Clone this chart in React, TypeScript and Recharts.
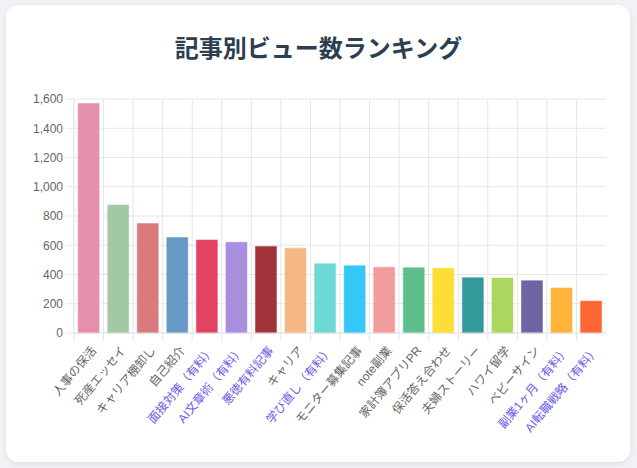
import { BarChart, Bar, XAxis, YAxis, CartesianGrid, Cell } from "recharts";

const titles = [
  "人事の保活",
  "死産エッセイ",
  "キャリア棚卸し",
  "自己紹介",
  "面接対策（有料）",
  "AI文章術（有料）",
  "悪徳有料記事",
  "キャリア",
  "学び直し（有料）",
  "モニター募集記事",
  "note副業",
  "家計簿アプリPR",
  "保活答え合わせ",
  "夫婦ストーリー",
  "ハワイ留学",
  "ベビーサイン",
  "副業1ヶ月（有料）",
  "AI転職戦略（有料）",
];

const views = [1570, 875, 748, 653, 636, 620, 592, 580, 474, 460, 450, 446, 442, 378, 376, 358, 308, 218];

const barColors = [
  "#e68fac", "#a3c9a3", "#d97b7b", "#6699c4", "#e34263", "#a98ee0",
  "#a3333a", "#f5b885", "#6dd9d5", "#33c8f8", "#f29c9c", "#5fbf8c",
  "#fedd35", "#339999", "#acd65e", "#6e63a3", "#feb43a", "#ff6633",
];

const yTicks = [0, 200, 400, 600, 800, 1000, 1200, 1400, 1600];

const data = titles.map((t, i) => ({ title: t, views: views[i] }));

const GRID = "#e6e6e6";
const FONT = "'Liberation Sans', 'Noto Sans CJK JP', sans-serif";

function ArticleTick(props: any) {
  const { x, y, payload, width } = props;
  const band = width / titles.length;
  const paid = String(payload.value).includes("有料");
  return (
    <g>
      <line x1={x - band / 2} x2={x - band / 2} y1={y - 8} y2={y} stroke={GRID} />
      <g transform={`translate(${x + 5},${y + 7})`}>
        <text
          transform="rotate(-50)"
          textAnchor="end"
          dy="0.35em"
          fontSize={12}
          fontFamily={FONT}
          fill={paid ? "#6c5ce7" : "#666"}
        >
          {payload.value}
        </text>
      </g>
    </g>
  );
}

export default function App() {
  return (
    <div
      style={{
        position: "fixed",
        left: 0,
        top: 0,
        width: 637,
        height: 468,
        background: "#f0f2f5",
        overflow: "hidden",
      }}
    >
      <div
        style={{
          position: "absolute",
          left: 6,
          top: 5,
          width: 624,
          height: 457,
          background: "#fff",
          borderRadius: 12,
          boxShadow: "0 2px 6px rgba(0,0,0,0.08)",
        }}
      />
      <div
        style={{
          position: "absolute",
          left: 0,
          top: 30,
          width: 637,
          textAlign: "center",
          fontFamily: "'Noto Sans CJK JP', sans-serif",
          fontWeight: 700,
          fontSize: 24,
          lineHeight: "34px",
          color: "#2c3e50",
        }}
      >
        記事別ビュー数ランキング
      </div>
      <div style={{ position: "absolute", left: 0, top: 0 }}>
        <BarChart
          width={637}
          height={468}
          data={data}
          margin={{ top: 99, right: 31, bottom: 0, left: 0 }}
          barCategoryGap="14%"
        >
          <CartesianGrid
            stroke={GRID}
            verticalCoordinatesGenerator={({ offset }: any) =>
              titles.map((_, i) => offset.left + (i * offset.width) / titles.length)
            }
          />
          <XAxis
            dataKey="title"
            interval={0}
            height={135}
            tickLine={false}
            axisLine={{ stroke: GRID }}
            tick={<ArticleTick />}
          />
          <YAxis
            width={74}
            domain={[0, 1600]}
            ticks={yTicks}
            tickSize={8}
            tickMargin={3}
            tickLine={{ stroke: GRID }}
            axisLine={{ stroke: GRID }}
            tick={{ fontSize: 12, fill: "#666", fontFamily: FONT }}
            tickFormatter={(v: number) => v.toLocaleString("en-US")}
          />
          <Bar dataKey="views" isAnimationActive={false}>
            {data.map((d, i) => (
              <Cell key={d.title} fill={barColors[i]} stroke={barColors[i]} strokeOpacity={0.5} />
            ))}
          </Bar>
        </BarChart>
      </div>
    </div>
  );
}
